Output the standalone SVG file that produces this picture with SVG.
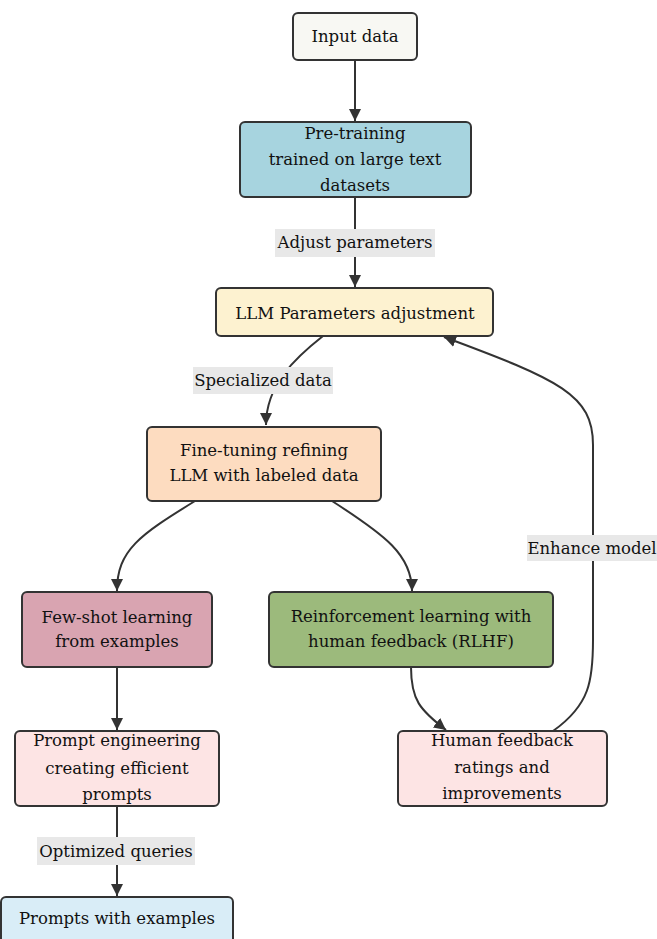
<svg xmlns="http://www.w3.org/2000/svg" width="657" height="939" viewBox="0 0 657 939">
<style>
.box{stroke:#333;stroke-width:2}
.t{font-family:'DejaVu Serif','Liberation Serif',serif;font-size:16.5px;fill:#111;text-anchor:middle}
.edge{fill:none;stroke:#333;stroke-width:2}
.lbl{fill:#e8e8e8}
</style>
<defs>
<marker id="ah" viewBox="0 0 10 10" refX="10" refY="5" markerWidth="6" markerHeight="6" orient="auto" markerUnits="strokeWidth">
<path d="M0,0 L10,5 L0,10 z" fill="#333"/>
</marker>
</defs>
<rect width="657" height="939" fill="#fff"/>
<g id="connectors">
<path class="edge" d="M355,60 L355,121" marker-end="url(#ah)"/>
<path class="edge" d="M355,197 L355,287" marker-end="url(#ah)"/>
<path class="edge" d="M323,336 C295,358 266,385 266,425" marker-end="url(#ah)"/>
<path class="edge" d="M195,501 C140,535 117,550 117,591" marker-end="url(#ah)"/>
<path class="edge" d="M332,501 C385,535 412,555 412,591" marker-end="url(#ah)"/>
<path class="edge" d="M117,667 L117,730" marker-end="url(#ah)"/>
<path class="edge" d="M117,806 L117,896" marker-end="url(#ah)"/>
<path class="edge" d="M411,667 C411,700 420,710 446,730" marker-end="url(#ah)"/>
<path class="edge" d="M553,731 C590,705 593,680 593,640 L593,445 C593,395 560,380 444,337" marker-end="url(#ah)"/>
<rect class="lbl" x="275" y="229" width="160" height="28"/>
<text class="t" x="355" y="248">Adjust parameters</text>
<rect class="lbl" x="193" y="367" width="140" height="27"/>
<text class="t" x="263" y="386">Specialized data</text>
<rect class="lbl" x="37" y="837" width="158" height="28"/>
<text class="t" x="116" y="857">Optimized queries</text>
<rect class="lbl" x="527" y="535" width="130" height="26"/>
<text class="t" x="592" y="554">Enhance model</text>
</g>
<g id="input">
<rect class="box" x="293" y="13" width="124" height="47" rx="5" fill="#f8f8f3"/>
<text class="t" x="355" y="42">Input data</text>
</g>
<g id="pretraining">
<rect class="box" x="240" y="122" width="231" height="75" rx="5" fill="#a7d4df"/>
<text class="t" x="355" y="139">Pre-training</text>
<text class="t" x="355" y="165">trained on large text</text>
<text class="t" x="355" y="191">datasets</text>
</g>
<g id="llm">
<rect class="box" x="216" y="288" width="277" height="48" rx="5" fill="#fdf2d0"/>
<text class="t" x="355" y="319">LLM Parameters adjustment</text>
</g>
<g id="finetuning">
<rect class="box" x="147" y="427" width="234" height="74" rx="5" fill="#fddcc0"/>
<text class="t" x="264" y="456">Fine-tuning refining</text>
<text class="t" x="264" y="481">LLM with labeled data</text>
</g>
<g id="fewshot">
<rect class="box" x="22" y="592" width="190" height="75" rx="5" fill="#d9a4b1"/>
<text class="t" x="117" y="623">Few-shot learning</text>
<text class="t" x="117" y="647">from examples</text>
</g>
<g id="rlhf">
<rect class="box" x="269" y="592" width="284" height="75" rx="5" fill="#9cba7c"/>
<text class="t" x="411" y="622">Reinforcement learning with</text>
<text class="t" x="411" y="647">human feedback (RLHF)</text>
</g>
<g id="prompteng">
<rect class="box" x="15" y="731" width="204" height="75" rx="5" fill="#fde4e4"/>
<text class="t" x="117" y="746">Prompt engineering</text>
<text class="t" x="117" y="774">creating efficient</text>
<text class="t" x="117" y="800">prompts</text>
</g>
<g id="humanfeedback">
<rect class="box" x="398" y="731" width="209" height="75" rx="5" fill="#fde4e4"/>
<text class="t" x="502" y="746">Human feedback</text>
<text class="t" x="502" y="773">ratings and</text>
<text class="t" x="502" y="799">improvements</text>
</g>
<g id="promptsexamples">
<rect class="box" x="1" y="897" width="232" height="60" rx="5" fill="#d9edf7"/>
<text class="t" x="117" y="924">Prompts with examples</text>
</g>
</svg>
